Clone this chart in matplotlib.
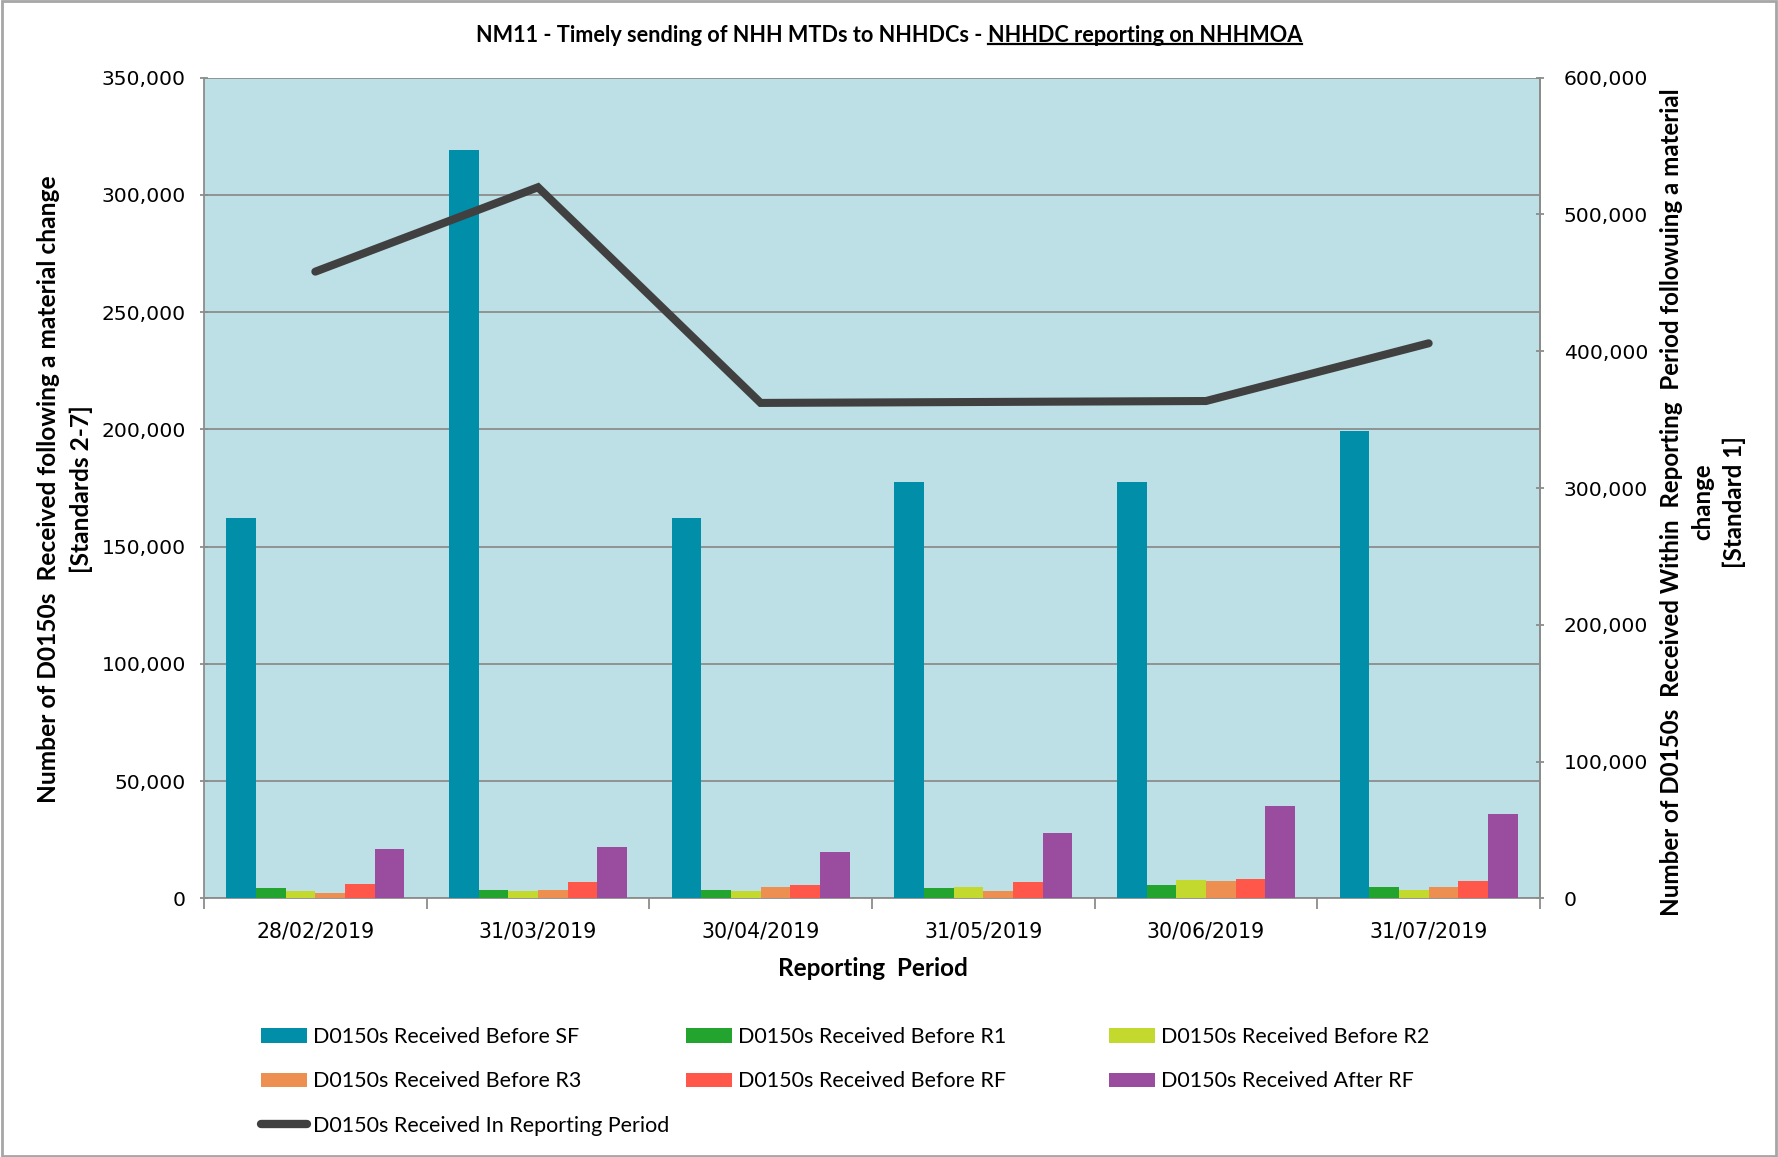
import matplotlib
matplotlib.use("Agg")
import matplotlib.pyplot as plt
import numpy as np
from matplotlib.patches import Rectangle, Patch
from matplotlib.lines import Line2D
from matplotlib.ticker import FuncFormatter, MultipleLocator, FixedLocator

# ---------------- data ----------------
periods = ["28/02/2019", "31/03/2019", "30/04/2019", "31/05/2019", "30/06/2019", "31/07/2019"]
before_sf = [162000, 319300, 162000, 177600, 177600, 199300]
before_r1 = [4300, 3600, 3600, 4300, 5500, 4800]
before_r2 = [3000, 3000, 3000, 4800, 7900, 3600]
before_r3 = [2400, 3600, 4800, 3000, 7400, 4800]
before_rf = [6100, 6800, 5500, 6800, 8100, 7400]
after_rf = [21000, 21700, 19700, 27900, 39200, 35800]
in_period = [458200, 519900, 362200, 362900, 363600, 405800]

series_names = ["D0150s Received Before SF", "D0150s Received Before R1",
                "D0150s Received Before R2", "D0150s Received Before R3",
                "D0150s Received Before RF", "D0150s Received After RF"]
line_name = "D0150s Received In Reporting Period"
colors = ["#008EA9", "#22A42E", "#C3D92E", "#EC8F50", "#FF584A", "#9A4D9E"]
line_color = "#404040"

NARROW = ["Lato", "DejaVu Sans"]
WIDE = ["DejaVu Sans"]

W, H = 1778, 1157
fig = plt.figure(figsize=(W / 100, H / 100), dpi=100)
fig.patch.set_facecolor("white")
renderer = fig.canvas.get_renderer()


def fit(t, target, vertical=False):
    """scale font size so that the text's extent matches a target length (px)"""
    for _ in range(3):
        bb = t.get_window_extent(renderer)
        cur = bb.height if vertical else bb.width
        t.set_fontsize(t.get_fontsize() * target / cur)


L, R, T, B = 204, 1540, 77.7, 898.3
ax = fig.add_axes([L / W, 1 - B / H, (R - L) / W, (B - T) / H])
ax.set_facecolor("#BDDFE6")

series = [before_sf, before_r1, before_r2, before_r3, before_rf, after_rf]
n = len(periods)
x = np.arange(n)
group_w = 0.8
bw = group_w / len(series)
for i, (vals, c) in enumerate(zip(series, colors)):
    offs = -group_w / 2 + bw * (i + 0.5)
    ax.bar(x + offs, vals, width=bw, color=c, edgecolor="none", zorder=3)

ax.set_xlim(-0.5, n - 0.5)
ax.set_ylim(0, 350000)
ax.yaxis.set_major_locator(MultipleLocator(50000))
fmt = FuncFormatter(lambda v, p: f"{v:,.0f}")
ax.yaxis.set_major_formatter(fmt)
ax.grid(axis="y", color="#8C8C8C", linewidth=1.3, zorder=1)
ax.set_axisbelow(True)

ax.set_xticks(x)
ax.set_xticklabels(periods, fontsize=14.8, family=WIDE)
ax.xaxis.set_minor_locator(FixedLocator(np.arange(-0.5, n, 1.0)))
ax.tick_params(axis="x", which="major", length=0, pad=17)
ax.tick_params(axis="x", which="minor", length=8, color="#8C8C8C", width=1.3)
ax.tick_params(axis="y", which="major", length=6, direction="inout", color="#8C8C8C",
               width=1.3, labelsize=14.6, pad=10)
for lab in ax.get_yticklabels():
    lab.set_family(WIDE)

for s in ["left", "bottom", "right"]:
    ax.spines[s].set_color("#8C8C8C")
    ax.spines[s].set_linewidth(1.3)
ax.spines["top"].set_visible(False)

ax2 = ax.twinx()
ax2.set_ylim(0, 600000)
ax2.yaxis.set_major_locator(MultipleLocator(100000))
ax2.yaxis.set_major_formatter(fmt)
ax2.tick_params(axis="y", length=6, direction="inout", color="#8C8C8C", width=1.3,
                labelsize=14.6, pad=14)
for lab in ax2.get_yticklabels():
    lab.set_family(WIDE)
for s in ["left", "top", "bottom"]:
    ax2.spines[s].set_visible(False)
ax2.spines["right"].set_color("#8C8C8C")
ax2.spines["right"].set_linewidth(1.3)
ax2.plot(x, in_period, color=line_color, linewidth=5.8, solid_capstyle="round",
         solid_joinstyle="miter", zorder=5)

# axis labels
yl = fig.text(65 / W, 1 - 489 / H,
              "Number of D0150s  Received following a material change\n[Standards 2-7]",
              rotation=90, ha="center", va="center", fontsize=16, fontweight="bold",
              family=NARROW, linespacing=1.45)
fit(yl, 627, vertical=True)
yr = fig.text(1703 / W, 1 - 502 / H,
              "Number of D0150s  Received Within  Reporting  Period followuing a material\nchange\n[Standard 1]",
              rotation=90, ha="center", va="center", fontsize=16, fontweight="bold",
              family=NARROW, linespacing=1.45)
fit(yr, 828, vertical=True)
xl = fig.text(873 / W, 1 - 968 / H, "Reporting  Period", ha="center", va="center",
              fontsize=16, fontweight="bold", family=NARROW)
fit(xl, 190)

# title with underlined part
part1 = "NM11 - Timely sending of NHH MTDs to NHHDCs - "
part2 = "NHHDC reporting on NHHMOA"
ty = 1 - 35 / H
tt = fig.text(0, ty, part1 + part2, fontsize=15, fontweight="bold", family=NARROW)
fit(tt, 826)
tfs = tt.get_fontsize()
tt.remove()
t1 = fig.text(0, ty, part1, ha="left", va="center", fontsize=tfs, fontweight="bold", family=NARROW)
t2 = fig.text(0, ty, part2, ha="left", va="center", fontsize=tfs, fontweight="bold", family=NARROW)
w1 = t1.get_window_extent(renderer).width
w2 = t2.get_window_extent(renderer).width
x0 = (W - (w1 + w2)) / 2
t1.set_x(x0 / W)
t2.set_x((x0 + w1) / W)
bb2 = t2.get_window_extent(renderer)
uy = (bb2.y0 + 2) / H
fig.add_artist(Line2D([(x0 + w1) / W, (x0 + w1 + w2) / W], [uy, uy],
                      color="black", linewidth=1.6, transform=fig.transFigure))

# legend font size fitted to the reference entry width
probe = fig.text(0, 0, series_names[0], fontsize=16, family=NARROW)
fit(probe, 266)
lfs = probe.get_fontsize()
probe.remove()

bars_h = [Patch(facecolor=c, edgecolor="none") for c in colors]
line_h = Line2D([], [], color=line_color, linewidth=6, solid_capstyle="round")
cols = [
    ([bars_h[0], bars_h[3], line_h], [series_names[0], series_names[3], line_name]),
    ([bars_h[1], bars_h[4]], [series_names[1], series_names[4]]),
    ([bars_h[2], bars_h[5]], [series_names[2], series_names[5]]),
]
col_x = [261, 686, 1109]
fs_px = lfs * 100 / 72
for (hs, ls), cx in zip(cols, col_x):
    fig.legend(hs, ls, loc="upper left", bbox_to_anchor=(cx / W, 1 - 1027 / H),
               frameon=False, handlelength=46 / fs_px, handleheight=14 / fs_px,
               handletextpad=6 / fs_px, labelspacing=1.13, borderpad=0, borderaxespad=0,
               prop={"family": NARROW, "size": lfs})

# figure border
fig.add_artist(Rectangle((0.001, 0.001), 0.998, 0.998, transform=fig.transFigure,
                         fill=False, edgecolor="#A6A6A6", linewidth=2))

fig.savefig("out.png", dpi=100)
